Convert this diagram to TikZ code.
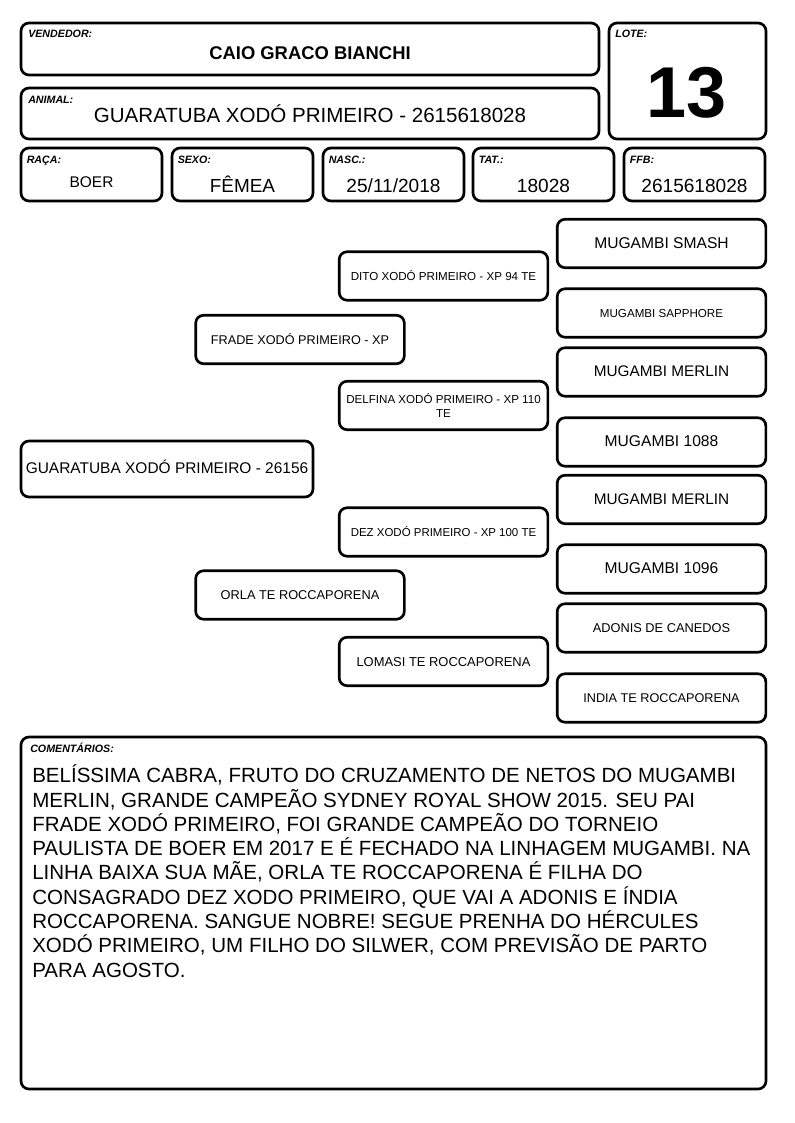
\documentclass[tikz,border=0pt]{standalone}
\usepackage{fontspec}
\setmainfont{Liberation Sans}
\usetikzlibrary{positioning}
\newcommand{\fsz}[2]{\fontsize{#1}{#2}\selectfont}

\begin{document}
\begin{tikzpicture}[x=0.75pt, y=-0.75pt,
    frame/.style={draw, line width=2pt, rounded corners=6pt},
    tag/.style={anchor=base west, inner sep=0pt, font=\fsz{8}{9.6}\bfseries\itshape},
    val/.style={anchor=base, inner sep=0pt},
    pedframe/.style={draw, line width=2pt, rounded corners=6pt, minimum width=156.5pt,
      minimum height=36.4pt, inner sep=1pt, align=center},
    pedbox/.style={pedframe, text height=0.72em, text depth=0pt}]
  \useasboundingbox (0,0) rectangle (794,1123);
  % header
  \draw[frame] (21,23) rectangle (599,75);
  \draw[frame] (609,23) rectangle (766,139);
  \draw[frame] (21,88) rectangle (599,139);
  \node[tag] (vendtag) at (28,38) {VENDEDOR:};
  \node[val, font=\fsz{13.8}{16}\bfseries] (vendedor) at (310,59.5) {CAIO GRACO BIANCHI};
  \node[tag] (lotetag) at (615,38) {LOTE:};
  \node[val, font=\fsz{54}{60}\bfseries] (lote) at (687,118) {13};
  \node[tag] (animaltag) at (28,104) {ANIMAL:};
  \node[val, font=\fsz{15.4}{18}] (animal) at (310,123) {GUARATUBA XODÓ PRIMEIRO - 2615618028};
  % data row
  \foreach \n/\xa/\lab/\v/\f/\b in {raca/21/RAÇA:/BOER/11.6/187.5, sexo/172/SEXO:/FÊMEA/14.2/193,
      nasc/323/NASC.:/25\slash 11\slash 2018/14.3/193, tat/473/TAT.:/18028/14.3/193,
      ffb/624/FFB:/2615618028/14.3/193} {
    \draw[frame] (\xa,148) rectangle (\xa+141,201);
    \node[tag] (tag\n) at (\xa+5.5,164) {\lab};
    \node[val, font=\fsz{\f}{\f}] (\n) at (\xa+70.5,\b) {\v};
  }
  % pedigree
  \node[pedbox, minimum width=219pt, minimum height=42pt, font=\fsz{11.6}{14}] (ped) at (167,469) {GUARATUBA XODÓ PRIMEIRO - 26156};
  \node[pedbox, font=\fsz{9.5}{11}] (pai) at (300,339.5) {FRADE XODÓ PRIMEIRO - XP};
  \node[pedbox, font=\fsz{9.6}{11}] (mae) at (300,595) {ORLA TE ROCCAPORENA};
  \node[pedbox, font=\fsz{8.7}{10}] (avopai) at (443.5,276) {DITO XODÓ PRIMEIRO - XP 94 TE};
  \node[pedframe, font=\fsz{8.7}{11.2}] (avopai2) at (443.5,405.5) {DELFINA XODÓ PRIMEIRO - XP 110\\TE};
  \node[pedbox, font=\fsz{8.6}{10}] (avomae) at (443.5,532) {DEZ XODÓ PRIMEIRO - XP 100 TE};
  \node[pedbox, font=\fsz{9.7}{11}] (avomae2) at (443.5,661.5) {LOMASI TE ROCCAPORENA};
  \foreach \n/\y/\t/\f in {1/243.5/MUGAMBI SMASH/11.7, 2/313/MUGAMBI SAPPHORE/8.7,
      3/372/MUGAMBI MERLIN/11.5, 4/442/MUGAMBI 1088/11.7, 5/499.5/MUGAMBI MERLIN/11.5,
      6/569/MUGAMBI 1096/11.7, 7/628/ADONIS DE CANEDOS/9.6, 8/698/INDIA TE ROCCAPORENA/9.5}
    \node[pedbox, font=\fsz{\f}{\f}] (bisavo\n) at (661.5,\y) {\t};
  % comments
  \draw[frame] (21,737) rectangle (766,1089);
  \node[tag] (comtag) at (30,752) {COMENTÁRIOS:};
  \node[anchor=base west, inner sep=0pt, align=left, font=\fsz{15.4}{18.2}] (comentarios) at (32,977) {%
    BELÍSSIMA CABRA, FRUTO DO CRUZAMENTO DE NETOS DO MUGAMBI\\
    MERLIN, GRANDE CAMPEÃO SYDNEY ROYAL SHOW 2015. SEU PAI\\
    FRADE XODÓ PRIMEIRO, FOI GRANDE CAMPEÃO DO TORNEIO\\
    PAULISTA DE BOER EM 2017 E É FECHADO NA LINHAGEM MUGAMBI. NA\\
    LINHA BAIXA SUA MÃE, ORLA TE ROCCAPORENA É FILHA DO\\
    CONSAGRADO DEZ XODO PRIMEIRO, QUE VAI A ADONIS E ÍNDIA\\
    ROCCAPORENA. SANGUE NOBRE! SEGUE PRENHA DO HÉRCULES\\
    XODÓ PRIMEIRO, UM FILHO DO SILWER, COM PREVISÃO DE PARTO\\
    PARA AGOSTO.};
\end{tikzpicture}
\end{document}
